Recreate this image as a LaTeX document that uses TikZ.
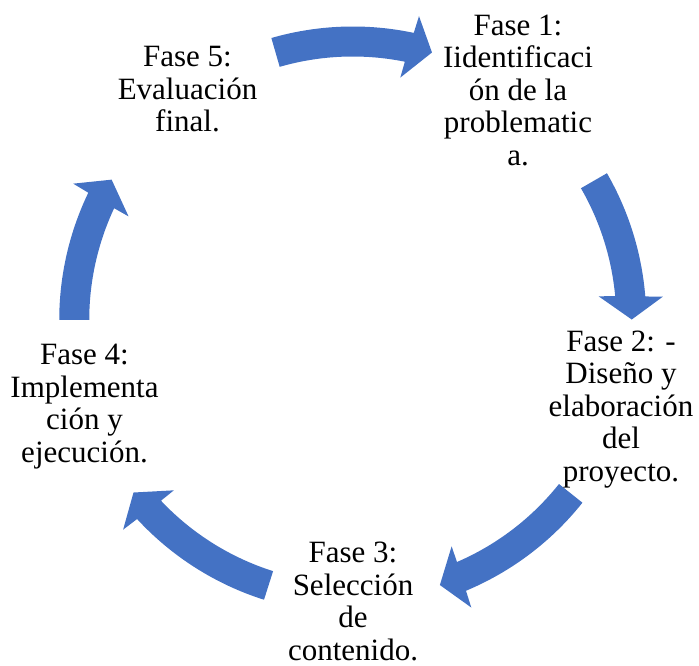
\documentclass[tikz,border=0pt]{standalone}
\usepackage{fontspec}
\setmainfont{Liberation Serif}
\definecolor{sablue}{HTML}{4472C4}
\tikzset{
  phase/.style={align=center, inner sep=0pt, font=\fontsize{31}{32.5}\selectfont, text=black},
  cycshape/.style={fill=sablue, draw=none}
}
% curved cycle arrow: #1 tail angle, #2 tip angle (clockwise)
\newcommand\cycarrow[2]{%
  \fill[cycshape, shift={(C)}]
    (#1:293.5pt) arc[start angle=#1, end angle=#2+4.5, radius=293.5pt]
    -- (#2+4.2:311pt) -- (#2:279pt) -- (#2+5.4:247pt)
    -- (#2+5.1:263.5pt) arc[start angle=#2+5.1, end angle=#1, radius=263.5pt]
    -- cycle;}
\begin{document}
\begin{tikzpicture}[x=1pt,y=1pt]
\useasboundingbox (0,0) rectangle (699,666);
\coordinate (C) at (352.75,346);
% arrows
\cycarrow{106.1}{73.5}
\cycarrow{30}{0.1}
\cycarrow{-38.5}{-71.8}
\cycarrow{-107.6}{-141.8}
\cycarrow{180}{149.8}
% phases
\node[phase] (f1) at (518,572) {\strut Fase 1:\\\strut Iidentificaci\\\strut ón de la\\\strut problematic\\\strut a.};
\node[phase] (f2) at (621,256) {\strut Fase 2: -\\\strut Diseño y\\\strut elaboración\\\strut del\\\strut proyecto.};
\node[phase] (f3) at (353,61) {\strut Fase 3:\\\strut Selección\\\strut de\\\strut contenido.};
\node[phase] (f4) at (84.5,259) {\strut Fase 4:\\\strut Implementa\\\strut ción y\\\strut ejecución.};
\node[phase] (f5) at (187.5,573) {\strut Fase 5:\\\strut Evaluación\\\strut final.};
\end{tikzpicture}
\end{document}
